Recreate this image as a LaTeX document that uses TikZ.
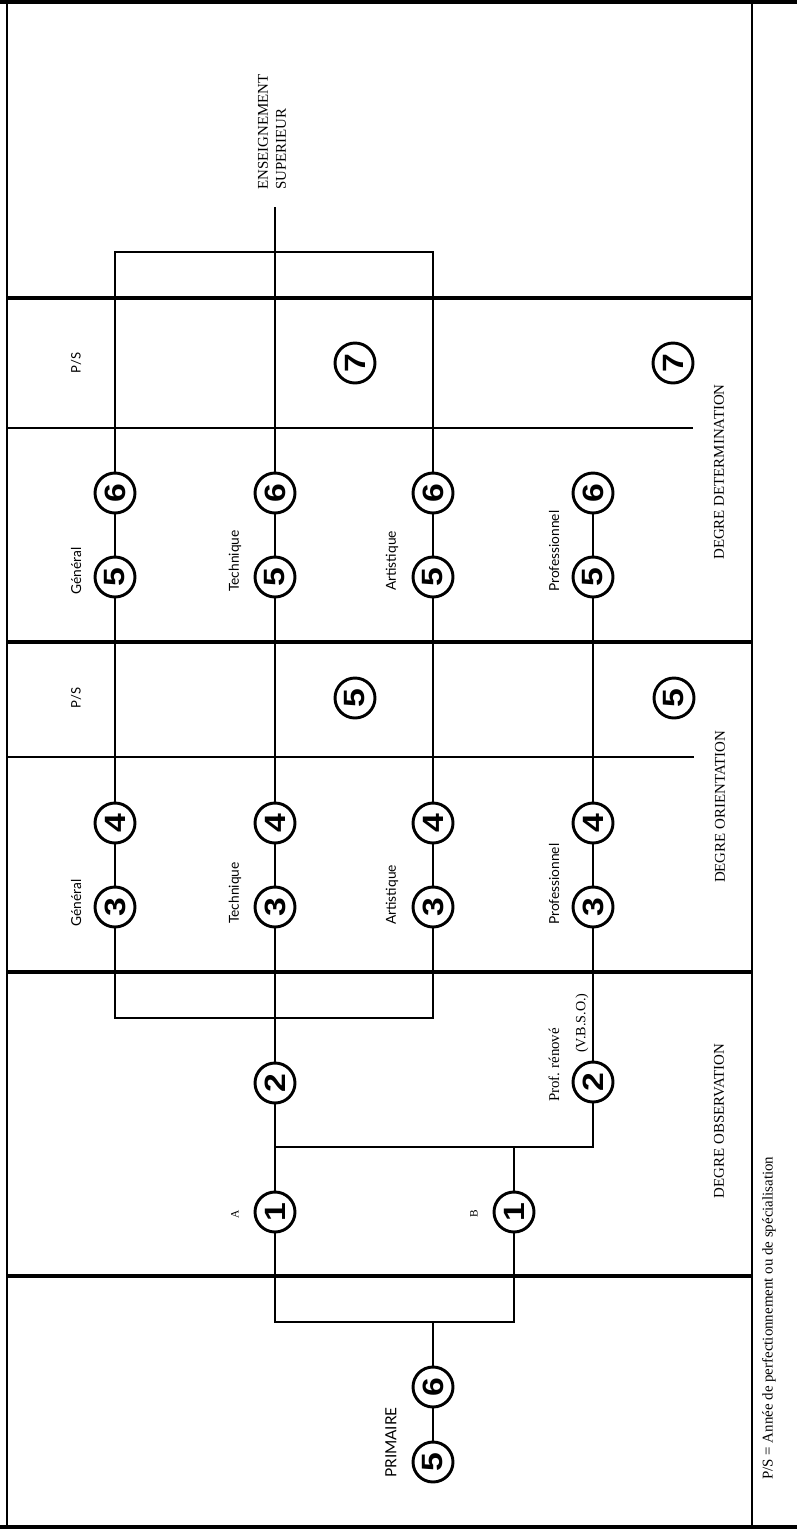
\documentclass[tikz,border=0pt]{standalone}
\usepackage{fontspec}
\setmainfont{Liberation Serif}
\newfontfamily\labsans{Lato}
\newfontfamily\digitfont{Liberation Sans}
\newcommand\widedigit[1]{\scalebox{1.15}[1]{#1}}
\begin{document}
\begin{tikzpicture}[x=0.75pt,y=-0.75pt,
  num/.style={circle,draw,line width=2.2pt,minimum size=30pt,inner sep=0pt,rotate=90,
    font=\digitfont\bfseries\fontsize{22}{22}\selectfont},
  conn/.style={line width=1.3pt},
  heavyrule/.style={line width=2.6pt},
  lightrule/.style={line width=1.5pt},
  caption/.style={rotate=90,inner sep=0pt,font=\fontsize{11.2}{13.5}\selectfont},
  branch/.style={rotate=90,inner sep=0pt,anchor=west,font=\labsans\fontsize{10.3}{12}\selectfont},
]
\useasboundingbox (0,0) rectangle (797,1529);
% frame
\draw[heavyrule] (0,2) -- (797,2);
\draw[heavyrule] (0,1527) -- (797,1527);
\draw[line width=2.2pt] (7,0) -- (7,1529);
\draw[line width=1.8pt] (752,0) -- (752,1529);
% dividers
\draw[heavyrule] (7,298) -- (752,298);
\draw[lightrule] (7,428) -- (693,428);
\draw[heavyrule] (7,642) -- (752,642);
\draw[lightrule] (7,757) -- (694,757);
\draw[heavyrule] (7,972) -- (752,972);
\draw[heavyrule] (7,1276) -- (752,1276);
% circles of the four branches
\foreach \n/\x in {g/115,t/275,a/433,p/593} {
  \node[num] (\n6) at (\x,493) {\widedigit{6}};
  \node[num] (\n5) at (\x,577) {\widedigit{5}};
  \node[num] (\n4) at (\x,823) {\widedigit{4}};
  \node[num] (\n3) at (\x,907) {\widedigit{3}};
}
\node[num] (ps7a) at (355,363) {\widedigit{7}};
\node[num] (ps7b) at (673,363) {\widedigit{7}};
\node[num] (ps5a) at (355,698) {\widedigit{5}};
\node[num] (ps5b) at (674,698) {\widedigit{5}};
\node[num] (twoT) at (275,1083) {\widedigit{2}};
\node[num] (twoP) at (593,1082) {\widedigit{2}};
\node[num] (oneA) at (275,1212) {\widedigit{1}};
\node[num] (oneB) at (514,1212) {\widedigit{1}};
\node[num] (pr6) at (433,1387) {\widedigit{6}};
\node[num] (pr5) at (433,1462) {\widedigit{5}};
% connectors
\coordinate (sup) at (275,207);
\coordinate (gtop) at (115,252);
\coordinate (atop) at (433,252);
\draw[conn] (g6) -- (gtop) -- (atop) -- (a6);
\draw[conn] (t6) -- (sup);
\foreach \n in {g,t,a,p} {
  \draw[conn] (\n6) -- (\n5);
  \draw[conn] (\n5) -- (\n4);
  \draw[conn] (\n4) -- (\n3);
}
\coordinate (gbot) at (115,1018);
\coordinate (abot) at (433,1018);
\draw[conn] (g3) -- (gbot) -- (abot) -- (a3);
\draw[conn] (t3) -- (twoT);
\draw[conn] (p3) -- (twoP);
\draw[conn] (twoT) -- (oneA);
\coordinate (pjoin) at (593,1147);
\coordinate (tjoin) at (275,1147);
\coordinate (bjoin) at (514,1147);
\draw[conn] (twoP) -- (pjoin) -- (tjoin);
\draw[conn] (oneB) -- (bjoin);
\coordinate (abr) at (275,1322);
\coordinate (bbr) at (514,1322);
\coordinate (prjoin) at (433,1322);
\draw[conn] (oneA) -- (abr) -- (bbr) -- (oneB);
\draw[conn] (pr6) -- (prjoin);
\draw[conn] (pr6) -- (pr5);
% labels
\node[caption,anchor=west,align=left] (ens) at (272,190) {ENSEIGNEMENT\\SUPERIEUR};
\node[branch] (lg1) at (76,595) {Général};
\node[branch] (lt1) at (235,592) {Technique};
\node[branch] (la1) at (392,591) {Artistique};
\node[branch] (lp1) at (554,592) {Professionnel};
\node[branch] (lg2) at (76,927) {Général};
\node[branch] (lt2) at (235,924) {Technique};
\node[branch] (la2) at (392,925) {Artistique};
\node[branch] (lp2) at (554,925) {Professionnel};
\node[rotate=90,inner sep=0pt,font=\labsans\fontsize{9.8}{12}\selectfont] (ps1) at (76,363) {P/S};
\node[rotate=90,inner sep=0pt,font=\labsans\fontsize{9.8}{12}\selectfont] (ps2) at (76,698) {P/S};
\node[caption] (ddet) at (719,472) {DEGRE DETERMINATION};
\node[caption] (dori) at (720,807) {DEGRE ORIENTATION};
\node[caption] (dobs) at (719,1121) {DEGRE OBSERVATION};
\node[caption,font=\fontsize{8.5}{10}\selectfont] (la) at (235,1214) {A};
\node[caption,font=\fontsize{8.5}{10}\selectfont] (lb) at (474,1214) {B};
\node[caption,anchor=west] (lren) at (554,1102) {Prof.\ rénové};
\node[caption,anchor=west,font=\fontsize{10.6}{12}\selectfont] (lvbso) at (582,1053) {(V.B.S.O.)};
\node[rotate=90,inner sep=0pt,anchor=west,font=\labsans\fontsize{11.5}{13}\selectfont] (lprim) at (391,1478) {PRIMAIRE};
\node[caption,anchor=west] (foot) at (769,1480) {P/S = Année de perfectionnement ou de spécialisation};
\end{tikzpicture}
\end{document}
